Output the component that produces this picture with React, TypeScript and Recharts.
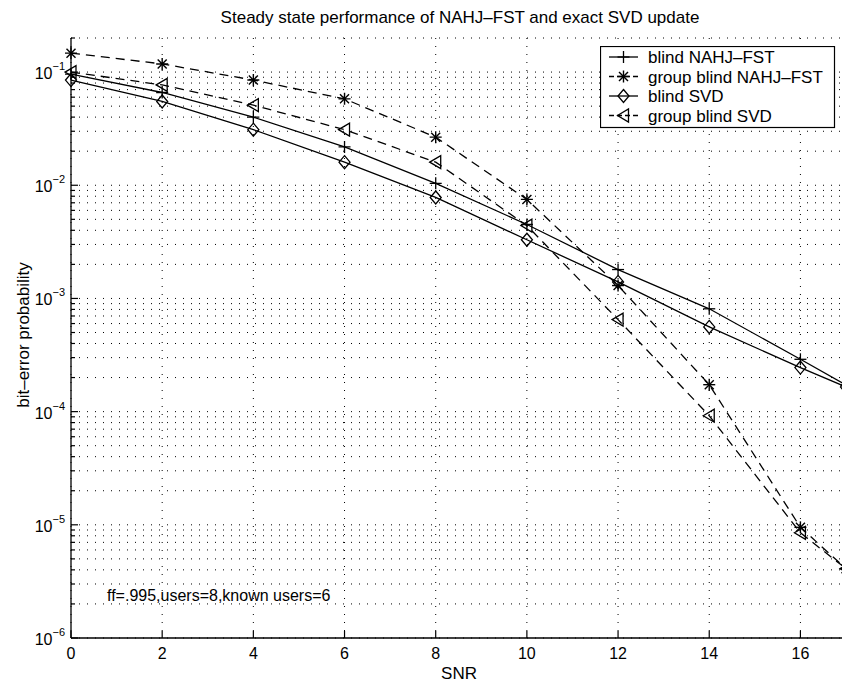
import { LineChart, Line, XAxis, YAxis, CartesianGrid, Legend } from "recharts"

// SNR points along the x axis
const snr = [0, 2, 4, 6, 8, 10, 12, 14, 16, 17]

// bit-error probability per series
const blindNahj = [0.096, 0.066, 0.04, 0.0218, 0.0104, 0.0045, 0.0018, 0.00081, 0.00029, 0.000172]
const groupBlindNahj = [0.147, 0.118, 0.085, 0.058, 0.0266, 0.0075, 0.0013, 0.000173, 0.0000095, 0.0000041]
const blindSvd = [0.085, 0.055, 0.031, 0.016, 0.0078, 0.0033, 0.0014, 0.00056, 0.000245, 0.000165]
const groupBlindSvd = [0.1, 0.077, 0.051, 0.031, 0.016, 0.0044, 0.00065, 0.000092, 0.0000085, 0.0000041]

const xTicks = [0, 2, 4, 6, 8, 10, 12, 14, 16]
const decades = [-6, -5, -4, -3, -2, -1]
const mantissas = [1, 2, 3, 4, 5, 6, 7, 8, 9]
const yTicks = decades
  .flatMap((d) => mantissas.map((m) => m * Math.pow(10, d)))
  .filter((v) => v <= 0.2 + 1e-12)

const data = snr.map((s, i) => ({
  snr: s,
  blindNahj: blindNahj[i],
  groupBlindNahj: groupBlindNahj[i],
  blindSvd: blindSvd[i],
  groupBlindSvd: groupBlindSvd[i],
}))

const FONT = "'Liberation Sans', Arial, Helvetica, sans-serif"

type MarkerKind = "plus" | "star" | "diamond" | "triangle"

function Marker({ kind, cx, cy }: { kind: MarkerKind; cx: number; cy: number }) {
  const s = 6
  if (kind === "plus") {
    return (
      <g stroke="#000" strokeWidth={1.3}>
        <line x1={cx - s} x2={cx + s} y1={cy} y2={cy} />
        <line x1={cx} x2={cx} y1={cy - s} y2={cy + s} />
      </g>
    )
  }
  if (kind === "star") {
    const d = s * 0.75
    return (
      <g stroke="#000" strokeWidth={1.4}>
        <line x1={cx - s} x2={cx + s} y1={cy} y2={cy} />
        <line x1={cx} x2={cx} y1={cy - s} y2={cy + s} />
        <line x1={cx - d} x2={cx + d} y1={cy - d} y2={cy + d} />
        <line x1={cx - d} x2={cx + d} y1={cy + d} y2={cy - d} />
      </g>
    )
  }
  if (kind === "diamond") {
    return (
      <polygon
        points={`${cx},${cy - 6.5} ${cx + 5.5},${cy} ${cx},${cy + 6.5} ${cx - 5.5},${cy}`}
        fill="none"
        stroke="#000"
        strokeWidth={1.3}
      />
    )
  }
  return (
    <polygon
      points={`${cx - 6},${cy} ${cx + 5},${cy - 6.5} ${cx + 5},${cy + 6.5}`}
      fill="none"
      stroke="#000"
      strokeWidth={1.3}
    />
  )
}

const seriesInfo: { key: string; name: string; marker: MarkerKind; dashed: boolean }[] = [
  { key: "blindNahj", name: "blind NAHJ–FST", marker: "plus", dashed: false },
  { key: "groupBlindNahj", name: "group blind NAHJ–FST", marker: "star", dashed: true },
  { key: "blindSvd", name: "blind SVD", marker: "diamond", dashed: false },
  { key: "groupBlindSvd", name: "group blind SVD", marker: "triangle", dashed: true },
]

function XTick(props: any) {
  const { x, y, payload } = props
  return (
    <g>
      <line x1={x} x2={x} y1={y} y2={y - 7} stroke="#000" strokeWidth={1.2} />
      <text x={x} y={y + 21} textAnchor="middle" fontSize={16} fontFamily={FONT} fill="#000">
        {payload.value}
      </text>
    </g>
  )
}

function TopTick(props: any) {
  const { x, y } = props
  return <line x1={x} x2={x} y1={y} y2={y + 7} stroke="#000" strokeWidth={1.2} />
}

function YTick(props: any) {
  const { x, y, payload } = props
  const lg = Math.log10(payload.value)
  const exp = Math.round(lg)
  const major = Math.abs(lg - exp) < 1e-6
  return (
    <g>
      <line x1={x} x2={x + (major ? 7 : 4)} y1={y} y2={y} stroke="#000" strokeWidth={1.2} />
      {major && (
        <text x={x - 6} y={y + 7} textAnchor="end" fontSize={16} fontFamily={FONT} fill="#000">
          10
          <tspan dy={-9} fontSize={11}>
            {"−" + Math.abs(exp)}
          </tspan>
        </text>
      )}
    </g>
  )
}

function LegendBox() {
  return (
    <svg width={236} height={83} style={{ display: "block" }}>
      <rect x={0.5} y={0.5} width={234} height={81} fill="#fff" stroke="#000" strokeWidth={1.2} />
      {seriesInfo.map((s, i) => {
        const y = 11 + i * 19.5
        return (
          <g key={s.key}>
            <line
              x1={9}
              x2={38}
              y1={y}
              y2={y}
              stroke="#000"
              strokeWidth={1.3}
              strokeDasharray={s.dashed ? "5 3" : undefined}
            />
            <Marker kind={s.marker} cx={23.5} cy={y} />
            <text x={48} y={y + 6} fontSize={17} fontFamily={FONT} fill="#000">
              {s.name}
            </text>
          </g>
        )
      })}
    </svg>
  )
}

export default function App() {
  return (
    <div
      style={{
        position: "fixed",
        left: 0,
        top: 0,
        width: 842,
        height: 682,
        overflow: "hidden",
        background: "#fff",
      }}
    >
      <LineChart
        width={850}
        height={682}
        data={data}
        margin={{ top: 38, right: 4, bottom: 0, left: 0 }}
        style={{ fontFamily: FONT }}
      >
        <CartesianGrid stroke="#000" strokeWidth={1} strokeDasharray="1 7" />
        <XAxis
          dataKey="snr"
          type="number"
          domain={[0, 17]}
          ticks={xTicks}
          interval={0}
          height={44}
          tickSize={0}
          tickMargin={0}
          tickLine={false}
          axisLine={{ stroke: "#000", strokeWidth: 1.3 }}
          tick={(p: any) => <XTick {...p} />}
        />
        <XAxis
          xAxisId="top"
          orientation="top"
          dataKey="snr"
          type="number"
          domain={[0, 17]}
          ticks={xTicks}
          interval={0}
          height={0}
          tickSize={0}
          tickMargin={0}
          tickLine={false}
          axisLine={{ stroke: "#000", strokeWidth: 1.3 }}
          tick={(p: any) => <TopTick {...p} />}
        />
        <YAxis
          scale="log"
          type="number"
          domain={[1e-6, 0.2]}
          allowDataOverflow
          ticks={yTicks}
          interval={0}
          width={71}
          tickSize={0}
          tickMargin={0}
          tickLine={false}
          axisLine={{ stroke: "#000", strokeWidth: 1.3 }}
          tick={(p: any) => <YTick {...p} />}
        />
        {seriesInfo.map((s) => (
          <Line
            key={s.key}
            dataKey={s.key}
            name={s.name}
            type="linear"
            stroke="#000"
            strokeWidth={1.3}
            strokeDasharray={s.dashed ? "9 6" : undefined}
            isAnimationActive={false}
            dot={(p: any) => <Marker key={`${s.key}-${p.index}`} kind={s.marker} cx={p.cx} cy={p.cy} />}
            activeDot={false}
          />
        ))}
        <Legend
          layout="horizontal"
          verticalAlign="middle"
          align="center"
          wrapperStyle={{ position: "absolute", left: 600, top: 46, width: 236, height: 83 }}
          content={() => <LegendBox />}
        />
        <text x={460} y={23} textAnchor="middle" fontSize={17} fontFamily={FONT} fill="#000">
          Steady state performance of NAHJ–FST and exact SVD update
        </text>
        <text
          transform="translate(29,335) rotate(-90)"
          textAnchor="middle"
          fontSize={17}
          fontFamily={FONT}
          fill="#000"
        >
          bit–error probability
        </text>
        <text x={459} y={679} textAnchor="middle" fontSize={17} fontFamily={FONT} fill="#000">
          SNR
        </text>
        <text x={107} y={601} fontSize={16} fontFamily={FONT} fill="#000">
          ff=.995,users=8,known users=6
        </text>
      </LineChart>
    </div>
  )
}
